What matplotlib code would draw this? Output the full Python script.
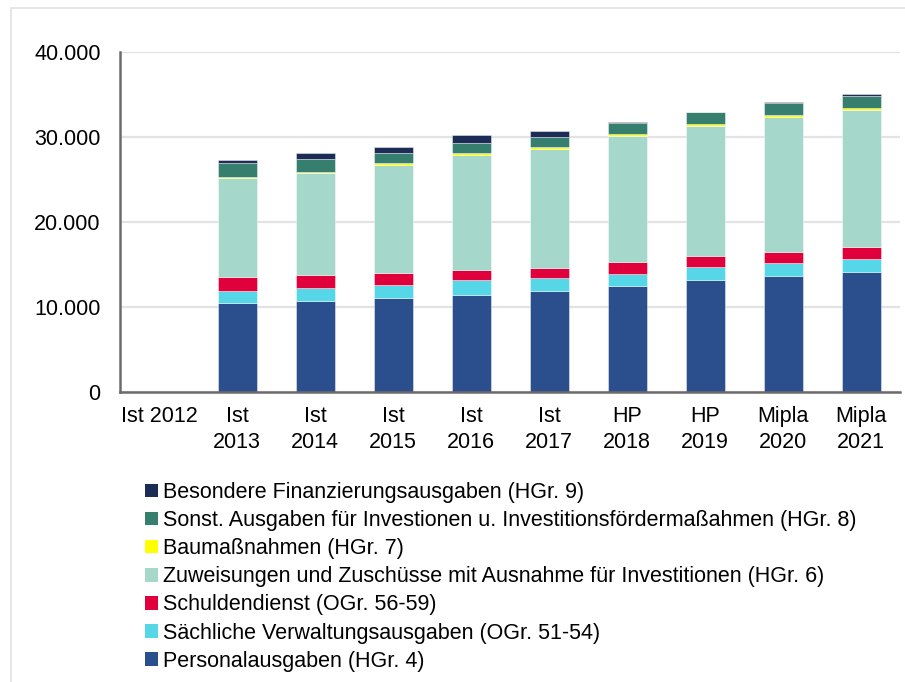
import matplotlib
matplotlib.use("Agg")
import matplotlib.pyplot as plt
from matplotlib.patches import Patch, Rectangle
import numpy as np

plt.rcParams['font.family'] = ['Liberation Sans', 'DejaVu Sans']

categories = ["Ist 2012", "Ist\n2013", "Ist\n2014", "Ist\n2015", "Ist\n2016", "Ist\n2017",
              "HP\n2018", "HP\n2019", "Mipla\n2020", "Mipla\n2021"]

personal     = [0, 10440, 10710, 11110, 11420, 11880, 12430, 13140, 13640, 14080]
saechlich    = [0, 1490, 1520, 1440, 1720, 1490, 1490, 1560, 1530, 1560]
schulden     = [0, 1640, 1580, 1410, 1250, 1180, 1330, 1330, 1330, 1400]
zuweisungen  = [0, 11610, 11960, 12750, 13490, 14070, 14900, 15290, 15840, 16190]
bau          = [0, 170, 160, 190, 190, 240, 160, 250, 230, 240]
sonst        = [0, 1600, 1530, 1250, 1180, 1130, 1280, 1350, 1480, 1370]
besondere    = [0, 360, 670, 630, 980, 720, 210, 60, 120, 230]

series = [
    ("Personalausgaben (HGr. 4)", personal, "#2B4E8C"),
    ("Sächliche Verwaltungsausgaben (OGr. 51-54)", saechlich, "#55D7E8"),
    ("Schuldendienst (OGr. 56-59)", schulden, "#E0003C"),
    ("Zuweisungen und Zuschüsse mit Ausnahme für Investitionen (HGr. 6)", zuweisungen, "#A5D8CB"),
    ("Baumaßnahmen (HGr. 7)", bau, "#FFFF00"),
    ("Sonst. Ausgaben für Investionen u. Investitionsfördermaßahmen (HGr. 8)", sonst, "#367F6E"),
    ("Besondere Finanzierungsausgaben (HGr. 9)", besondere, "#1B2D57"),
]

W, H = 905, 682
fig = plt.figure(figsize=(W / 100, H / 100), dpi=100)
ax = fig.add_axes([120 / W, 1 - 392 / H, 780 / W, 340 / H])

x = np.arange(len(categories))
bottom = np.zeros(len(categories))
for label, vals, color in series:
    v = np.array(vals, dtype=float)
    ax.bar(x, v, 0.5, bottom=bottom, color=color, edgecolor=(1, 1, 1, 0.5),
           linewidth=0.6, label=label, zorder=3)
    bottom += v

ax.set_xlim(-0.5, len(categories) - 0.5)
ax.set_ylim(0, 40000)
ax.set_yticks([0, 10000, 20000, 30000, 40000])
ax.set_yticklabels(["0", "10.000", "20.000", "30.000", "40.000"])
ax.set_xticks(x)
ax.set_xticklabels(categories, linespacing=1.3)
ax.tick_params(axis='both', length=0, labelsize=15.5, colors='black')
ax.tick_params(axis='x', pad=10)
ax.tick_params(axis='y', pad=14)
ax.yaxis.grid(True, color='#E3E3E3', linewidth=1.6, zorder=0)
ax.set_axisbelow(True)
for s in ['top', 'right']:
    ax.spines[s].set_visible(False)
for s in ['left', 'bottom']:
    ax.spines[s].set_color('#6E6A6A')
    ax.spines[s].set_linewidth(1.8)
    ax.spines[s].set_zorder(4)

handles = [Patch(facecolor=c, edgecolor='none', label=l) for l, _, c in series][::-1]
leg = fig.legend(handles=handles, loc='upper left', bbox_to_anchor=(145 / W, 1 - 482 / H),
                 frameon=False, fontsize=15.5, handlelength=0.6, handleheight=0.6,
                 handletextpad=0.25, labelspacing=0.33, borderaxespad=0, borderpad=0)

# outer chart border (top and left visible)
fig.add_artist(Rectangle((11 / W, -0.1), 1.2, 1 - 8 / H + 0.1, transform=fig.transFigure,
                         fill=False, edgecolor='#E2E2E2', linewidth=1.2))

fig.savefig("out.png", dpi=100)
